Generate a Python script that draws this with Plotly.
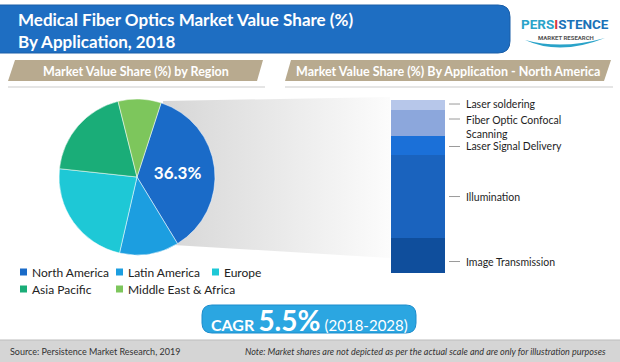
import plotly.graph_objects as go

W, H = 620, 362

# ---- data ----
regions = ["North America", "Latin America", "Europe", "Asia Pacific", "Middle East & Africa"]
region_share = [36.3, 12.3, 23.1, 19.4, 8.9]
region_colors = ["#1a6bc8", "#1c9ee0", "#1ec8d6", "#1aad78", "#7dc65c"]

applications = ["Image Transmission", "Illumination", "Laser Signal Delivery",
                "Fiber Optic Confocal<br>Scanning", "Laser soldering"]
app_share = [20.2, 48.0, 11.0, 15.0, 5.8]
app_colors = ["#0f4e9c", "#1a63be", "#1b70d8", "#8ca7dc", "#b7c7ea"]

title_text = "Medical Fiber Optics Market Value Share (%)<br>By Application, 2018"
left_header = "Market Value Share (%) by Region"
right_header = "Market Value Share (%) By Application - North America"
cagr_value = "5.5%"
cagr_period = "(2018-2028)"
source_text = "Source: Persistence Market Research, 2019"
note_text = "Note: Market shares are not depicted as per the actual scale and are only for illustration purposes"

FONT = "Lato"


def px(x):
    return x / W


def py(y):
    return 1 - y / H


fig = go.Figure()

# shadow wedge (decorative) on a pixel overlay axis
fig.add_trace(go.Scatter(
    x=[163, 390, 390, 173, 163], y=[101, 97, 258, 245, 101],
    fill="toself", mode="none", hoverinfo="skip", showlegend=False,
    fillgradient=dict(type="horizontal", colorscale=[[0, "#d6d6d6"], [1, "#fcfcfc"]]),
    xaxis="x", yaxis="y",
))

# pie
cx, cy, r = 137, 177, 78
fig.add_trace(go.Pie(
    labels=regions, values=region_share, sort=False, direction="clockwise",
    rotation=18, marker=dict(colors=region_colors, line=dict(color="white", width=0.5)),
    texttemplate=["%{value:.1f}%"] + [""] * (len(regions) - 1),
    textposition="inside", insidetextorientation="horizontal",
    textfont=dict(family=FONT, size=17, color="white", weight="bold"),
    domain=dict(x=[px(cx - r), px(cx + r)], y=[py(cy + r), py(cy - r)]),
    showlegend=False, hoverinfo="label+percent",
))

# stacked bar
for name, val, col in zip(applications, app_share, app_colors):
    fig.add_trace(go.Bar(
        x=[""], y=[val], name=name.replace("<br>", " "), marker=dict(color=col, line=dict(width=0)),
        xaxis="x2", yaxis="y2", showlegend=False, width=1,
    ))

bar_top, bar_bot = 100, 273
bar_l, bar_r = 391, 445

fig.update_layout(
    width=W, height=H, margin=dict(l=0, r=0, t=0, b=0),
    paper_bgcolor="white", plot_bgcolor="rgba(0,0,0,0)",
    barmode="stack", bargap=0,
    xaxis=dict(domain=[0, 1], range=[0, W], visible=False, fixedrange=True),
    yaxis=dict(domain=[0, 1], range=[H, 0], visible=False, fixedrange=True),
    xaxis2=dict(domain=[px(bar_l), px(bar_r)], range=[-0.5, 0.5], visible=False, anchor="y2"),
    yaxis2=dict(domain=[py(bar_bot), py(bar_top)], range=[0, sum(app_share)], visible=False, anchor="x2"),
    font=dict(family=FONT),
)

shapes = []
annotations = []

# title bar
shapes.append(dict(type="path", xref="paper", yref="paper",
                   path=f"M {px(-5)},{py(5)} L {px(498)},{py(5)} Q {px(510)},{py(5)} {px(510)},{py(17)} "
                        f"L {px(510)},{py(41)} Q {px(510)},{py(53)} {px(498)},{py(53)} L {px(-5)},{py(53)} Z",
                   fillcolor="#1e6ec2", line=dict(color="#1a5ea8", width=1), layer="below"))
annotations.append(dict(xref="paper", yref="paper", x=px(16), y=py(30), xanchor="left", yanchor="middle",
                        text=f"<b>{title_text}</b>", showarrow=False, align="left",
                        font=dict(family=FONT, size=17, color="white")))

# logo
annotations.append(dict(xref="paper", yref="paper", x=px(565), y=py(24), xanchor="center", yanchor="middle",
                        text="<b><span style='color:#2aa3c9'>PERS</span><span style='color:#d9363e'>I</span>"
                             "<span style='color:#1b72b8'>STENCE</span></b>",
                        showarrow=False, font=dict(family="Roboto", size=13.5)))
annotations.append(dict(xref="paper", yref="paper", x=px(566), y=py(37), xanchor="center", yanchor="middle",
                        text="<b>MARKET RESEARCH</b>", showarrow=False,
                        font=dict(family="Roboto", size=6, color="#555555")))
shapes.append(dict(type="path", xref="paper", yref="paper",
                   path=f"M {px(525)},{py(40)} Q {px(560)},{py(56)} {px(605)},{py(38)} Q {px(562)},{py(50)} {px(525)},{py(40)} Z",
                   fillcolor="#2aa3c9", line=dict(width=0)))

# section headers
banner_col = "#b8aa8f"
for (x0b, x0t, x1t, x1b), txt in [((8, 15, 263, 257), left_header), ((285, 291, 611, 604), right_header)]:
    shapes.append(dict(type="path", xref="paper", yref="paper",
                       path=f"M {px(x0b)},{py(81)} L {px(x0t)},{py(60)} L {px(x1t)},{py(60)} L {px(x1b)},{py(81)} Z",
                       fillcolor=banner_col, line=dict(width=0)))
    shapes.append(dict(type="line", xref="paper", yref="paper", x0=px(x0b), x1=px(x1t + 2), y0=py(87), y1=py(87),
                       line=dict(color="#dcdcdc", width=1.5)))
    annotations.append(dict(xref="paper", yref="paper", x=px((x0b + x1t) / 2), y=py(71), xanchor="center",
                            yanchor="middle", text=f"<b>{txt}</b>", showarrow=False,
                            font=dict(family=FONT, size=12.5, color="white")))

# bar labels with leader lines
offsets = [6, 0, 1, -4, -1]
cum = 0
total = sum(app_share)
for name, val, off in zip(applications, app_share, offsets):
    center = cum + val / 2
    cum += val
    ypix = bar_bot - center / total * (bar_bot - bar_top) + off
    shapes.append(dict(type="line", xref="paper", yref="paper", x0=px(449), x1=px(460), y0=py(ypix), y1=py(ypix),
                       line=dict(color="#9a9a9a", width=1)))
    two = "<br>" in name
    annotations.append(dict(xref="paper", yref="paper", x=px(464), y=py(ypix - 7 if two else ypix),
                            xanchor="left", yanchor="top" if two else "middle", text=name, showarrow=False,
                            align="left", font=dict(family=FONT, size=10.5, color="#1e1e1e")))

# legend (manual)
leg_pos = [(20, 272), (116, 272), (212, 272), (20, 289), (116, 289)]
for (lx, ly), name, col in zip(leg_pos, regions, region_colors):
    shapes.append(dict(type="rect", xref="paper", yref="paper", x0=px(lx), x1=px(lx + 7), y0=py(ly + 3.5),
                       y1=py(ly - 3.5), fillcolor=col, line=dict(width=0)))
    annotations.append(dict(xref="paper", yref="paper", x=px(lx + 10), y=py(ly), xanchor="left", yanchor="middle",
                            text=name, showarrow=False, font=dict(family=FONT, size=12, color="#222222")))

# CAGR box
shapes.append(dict(type="path", xref="paper", yref="paper",
                   path=f"M {px(212)},{py(305)} L {px(406)},{py(305)} Q {px(416)},{py(305)} {px(416)},{py(315)} "
                        f"L {px(416)},{py(323)} Q {px(416)},{py(333)} {px(406)},{py(333)} L {px(212)},{py(333)} "
                        f"Q {px(202)},{py(333)} {px(202)},{py(323)} L {px(202)},{py(315)} Q {px(202)},{py(305)} {px(212)},{py(305)} Z",
                   fillcolor="#2ba6e1", line=dict(color="#1d8ccc", width=1)))
annotations.append(dict(xref="paper", yref="paper", x=px(309), y=py(320), xanchor="center", yanchor="middle",
                        text=f"<b>CAGR</b> <b><span style='font-size:28px'>{cagr_value}</span></b> "
                             f"<span style='font-size:15px'>{cagr_period}</span>",
                        showarrow=False, font=dict(family=FONT, size=16, color="white")))

# footer
shapes.append(dict(type="rect", xref="paper", yref="paper", x0=0, x1=1, y0=0, y1=py(340),
                   fillcolor="#d5d5d5", line=dict(width=0)))
shapes.append(dict(type="line", xref="paper", yref="paper", x0=0, x1=1, y0=py(340), y1=py(340),
                   line=dict(color="#bdbdbd", width=1)))
annotations.append(dict(xref="paper", yref="paper", x=px(8), y=py(351), xanchor="left", yanchor="middle",
                        text=source_text, showarrow=False, font=dict(family=FONT, size=9, color="#333333")))
annotations.append(dict(xref="paper", yref="paper", x=px(608), y=py(351), xanchor="right", yanchor="middle",
                        text=f"<i>{note_text}</i>", showarrow=False, font=dict(family=FONT, size=9, color="#333333")))

fig.update_layout(shapes=shapes, annotations=annotations)
fig.write_html("out.html", config={"displayModeBar": False},
               post_script="document.body.style.margin='0px';document.body.style.padding='0px';")
